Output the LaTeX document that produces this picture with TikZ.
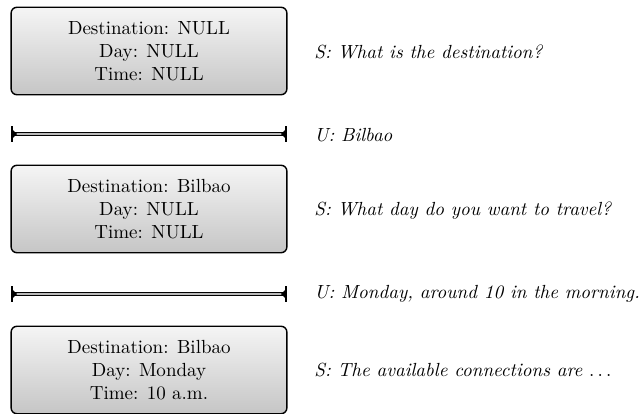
\documentclass[tikz,border=0pt]{standalone}
\usetikzlibrary{arrows.meta}
\begin{document}
\begin{tikzpicture}[x=0.526pt,y=-0.526pt,
  state/.style={draw=black, line width=0.75pt, rounded corners=3pt,
    top color=gray!8, bottom color=gray!45,
    minimum width=145pt, minimum height=46pt, align=center, inner sep=0pt},
  utter/.style={anchor=west, inner sep=0pt, font=\itshape},
  turn/.style={double=gray!55, double distance=1pt, line width=0.6pt,
    {Bar[width=8pt,line width=0.8pt]Latex[reversed,length=2.5pt,width=5pt]}-{Latex[reversed,length=2.5pt,width=5pt]Bar[width=8pt,line width=0.8pt]}}
]
\useasboundingbox (0,0) rectangle (643,414);

% dialogue states
\node[state] (s1) at (149,51) {Destination: NULL\\Day: NULL\\Time: NULL};
\node[state] (s2) at (149,209) {Destination: Bilbao\\Day: NULL\\Time: NULL};
\node[state] (s3) at (149,370) {Destination: Bilbao\\Day: Monday\\Time: 10 a.m.};

% system and user turns
\node[utter] (t1) at (314,52) {S: What is the destination?};
\node[utter] (t2) at (314,135) {U: Bilbao};
\node[utter] (t3) at (314,211) {S: What day do you want to travel?};
\node[utter] (t4) at (314,294) {U: Monday, around 10 in the morning.};
\node[utter] (t5) at (314,370) {S: The available connections are $\ldots$};

% user turn separators
\coordinate (a1) at (11,134);
\coordinate (b1) at (287,134);
\coordinate (a2) at (11,294);
\coordinate (b2) at (287,294);
\draw[turn] (a1) -- (b1);
\draw[turn] (a2) -- (b2);
\end{tikzpicture}
\end{document}
